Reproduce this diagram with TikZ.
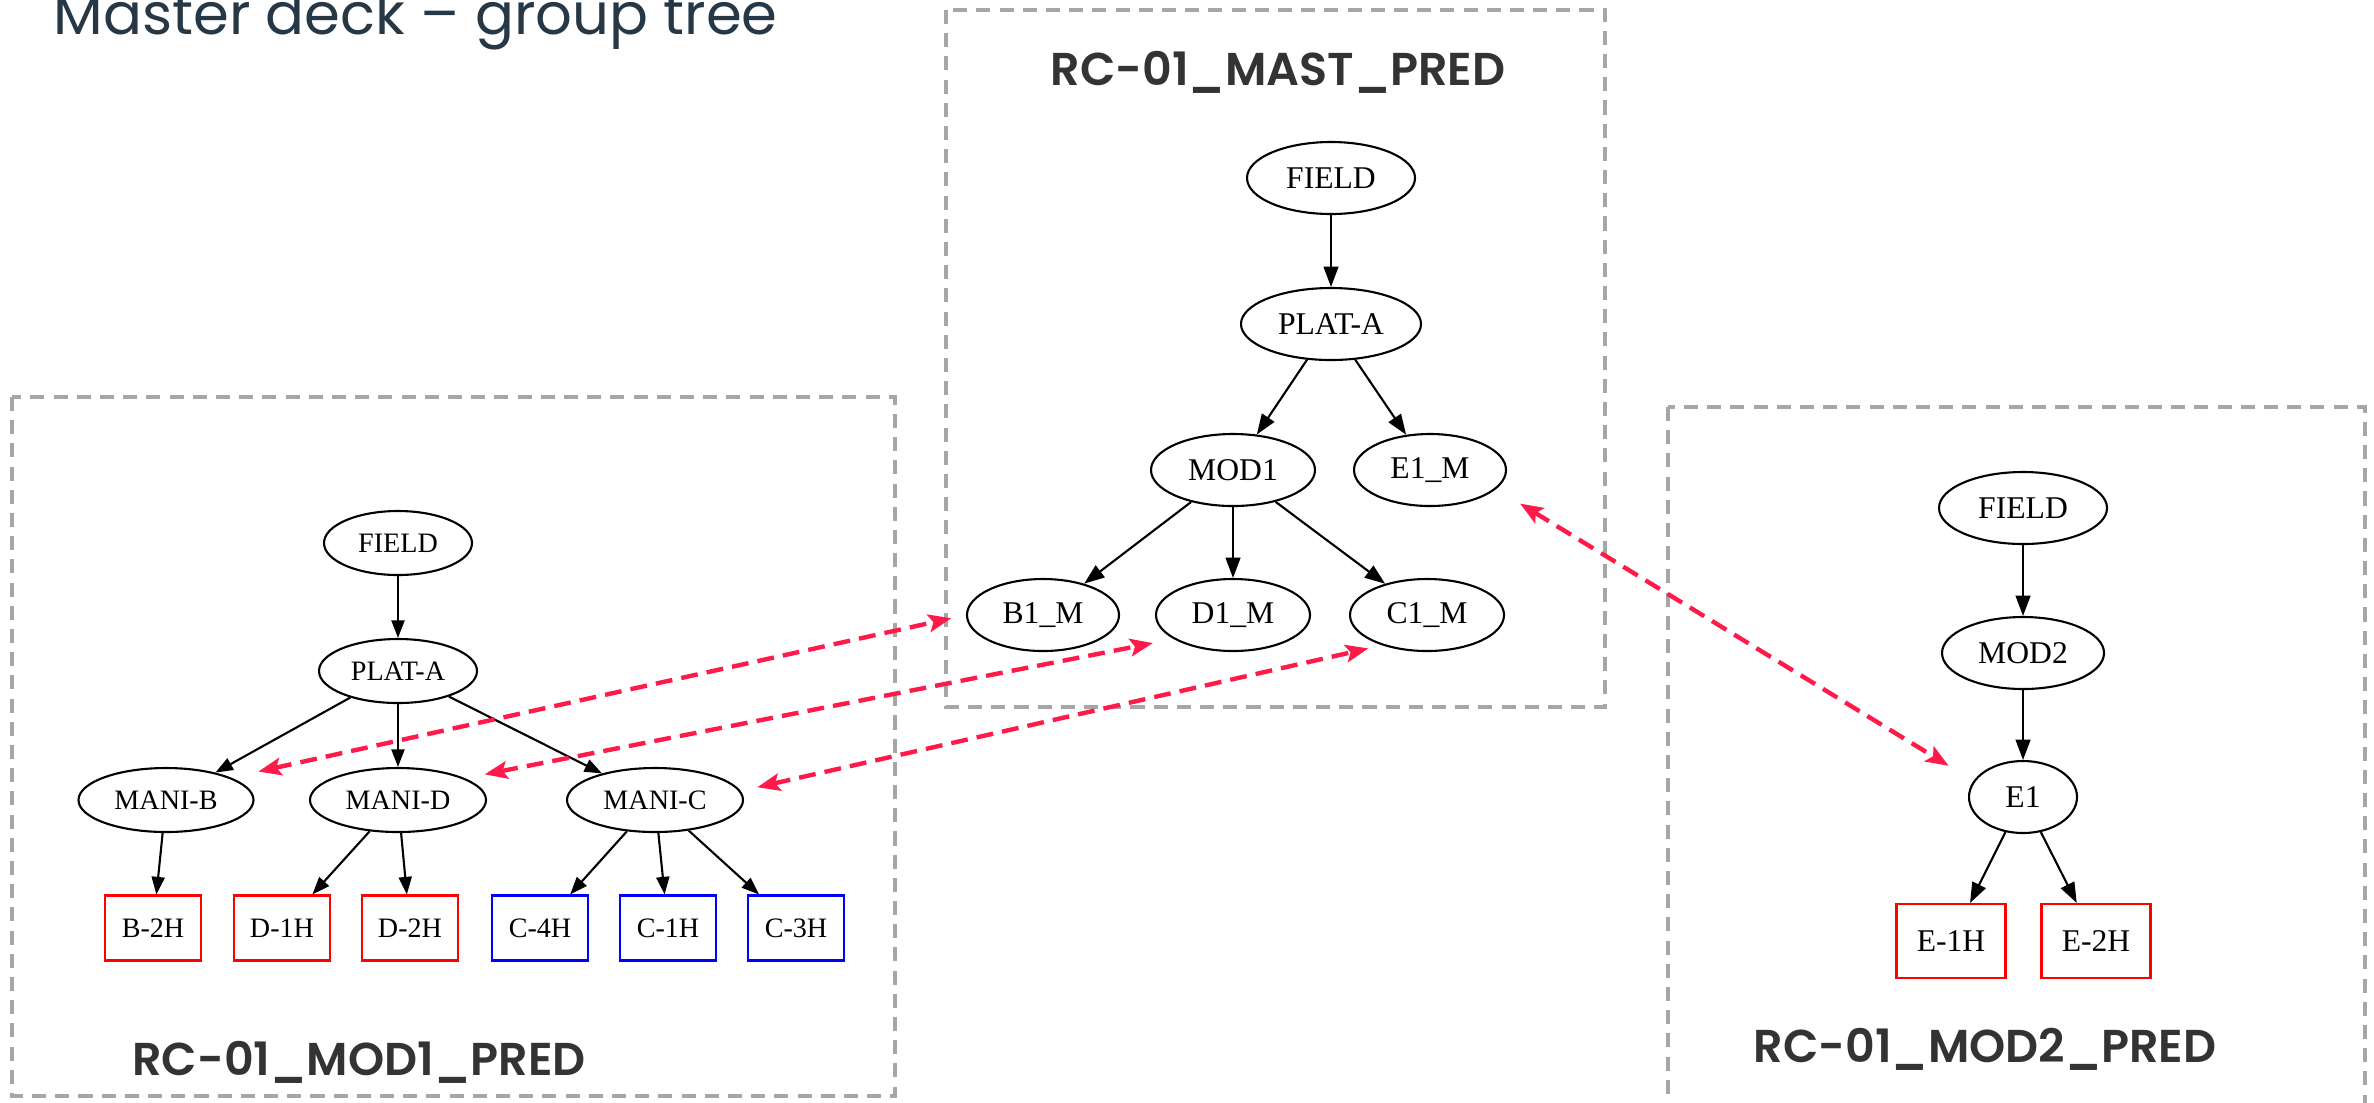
\documentclass[tikz,border=0pt]{standalone}
\usepackage{fontspec}
\setmainfont{Liberation Serif}
\newfontfamily\deckfont{Poppins}
\newfontfamily\groupfont{Poppins SemiBold}
\usetikzlibrary{shapes.geometric,arrows.meta}
\definecolor{linkred}{HTML}{FF1A4A}
\definecolor{framegray}{HTML}{A6A6A6}
\definecolor{titleblue}{HTML}{263746}
\definecolor{labelgray}{HTML}{333333}

\begin{document}
\begin{tikzpicture}[
  oval/.style={ellipse,draw,line width=0.6pt,inner sep=0pt,minimum height=0.72cm,font=\fontsize{9}{10}\selectfont},
  smalloval/.style={oval,minimum height=0.64cm,font=\fontsize{8}{9}\selectfont},
  leaf/.style={rectangle,draw,line width=0.6pt,inner sep=0pt,minimum width=1.09cm,minimum height=0.74cm,font=\fontsize{9}{10}\selectfont},
  smallleaf/.style={leaf,minimum width=0.96cm,minimum height=0.65cm,font=\fontsize{8}{9}\selectfont},
  branch/.style={-{Triangle[length=5.8pt,width=4.2pt]},line width=0.6pt},
  smallbranch/.style={-{Triangle[length=5pt,width=3.7pt]},line width=0.6pt},
  pairlink/.style={{Stealth[length=6.5pt,width=5pt,inset=1.3pt]}-{Stealth[length=6.5pt,width=5pt,inset=1.3pt]},
    line width=1.25pt,linkred,dash pattern=on 4.8pt off 2.6pt},
  groupframe/.style={line width=1pt,framegray,dash pattern=on 4pt off 2.6pt},
  grouplabel/.style={anchor=base,inner sep=0pt,text=labelgray,font=\groupfont\fontsize{13.1}{16}\selectfont}
]
  \useasboundingbox (0,0) rectangle (23.74,-11.02);

  \node[anchor=base west,inner sep=0pt,text=titleblue,font=\deckfont\fontsize{16.4}{19}\selectfont]
    (title) at (0.53,-0.34) {Master deck – group tree};

  \draw[groupframe] (9.46,-0.10) rectangle (16.05,-7.07);
  \draw[groupframe] (0.12,-3.97) rectangle (8.95,-10.96);
  \draw[groupframe] (16.68,-4.07) rectangle (23.65,-11.40);

  \node[grouplabel] (mastlabel) at (12.78,-0.85) {RC-01\_MAST\_PRED};
  \node[grouplabel] (modonelabel) at (3.59,-10.75) {RC-01\_MOD1\_PRED};
  \node[grouplabel] (modtwolabel) at (19.85,-10.62) {RC-01\_MOD2\_PRED};

  \node[oval,minimum width=1.68cm] (fieldM) at (13.31,-1.78) {FIELD};
  \node[oval,minimum width=1.80cm] (platM) at (13.31,-3.24) {PLAT-A};
  \node[oval,minimum width=1.64cm] (modM) at (12.33,-4.70) {MOD1};
  \node[oval,minimum width=1.52cm] (e1M) at (14.30,-4.70) {E1\_M};
  \node[oval,minimum width=1.52cm] (b1M) at (10.43,-6.15) {B1\_M};
  \node[oval,minimum width=1.54cm] (d1M) at (12.33,-6.15) {D1\_M};
  \node[oval,minimum width=1.54cm] (c1M) at (14.27,-6.15) {C1\_M};

  \node[smalloval,minimum width=1.48cm] (fieldL) at (3.98,-5.43) {FIELD};
  \node[smalloval,minimum width=1.58cm] (platL) at (3.98,-6.71) {PLAT-A};
  \node[smalloval,minimum width=1.75cm] (maniB) at (1.66,-8.00) {MANI-B};
  \node[smalloval,minimum width=1.76cm] (maniD) at (3.98,-8.00) {MANI-D};
  \node[smalloval,minimum width=1.76cm] (maniC) at (6.55,-8.00) {MANI-C};
  \node[smallleaf,draw=red] (b2h) at (1.53,-9.28) {B-2H};
  \node[smallleaf,draw=red] (d1h) at (2.82,-9.28) {D-1H};
  \node[smallleaf,draw=red] (d2h) at (4.10,-9.28) {D-2H};
  \node[smallleaf,draw=blue] (c4h) at (5.40,-9.28) {C-4H};
  \node[smallleaf,draw=blue] (c1h) at (6.68,-9.28) {C-1H};
  \node[smallleaf,draw=blue] (c3h) at (7.96,-9.28) {C-3H};

  \node[oval,minimum width=1.68cm] (fieldR) at (20.23,-5.08) {FIELD};
  \node[oval,minimum width=1.62cm] (mod2) at (20.23,-6.53) {MOD2};
  \node[oval,minimum width=1.08cm] (e1) at (20.23,-7.97) {E1};
  \node[leaf,draw=red] (e1h) at (19.51,-9.41) {E-1H};
  \node[leaf,draw=red] (e2h) at (20.96,-9.41) {E-2H};

  \foreach \a/\b in {fieldM/platM,platM/modM,platM/e1M,modM/b1M,modM/d1M,modM/c1M,
      fieldR/mod2,mod2/e1,e1/e1h,e1/e2h}
    \draw[branch] (\a) -- (\b);
  \foreach \a/\b in {fieldL/platL,platL/maniB,platL/maniD,platL/maniC,maniB/b2h,
      maniD/d1h,maniD/d2h,maniC/c4h,maniC/c1h,maniC/c3h}
    \draw[smallbranch] (\a) -- (\b);

  \foreach \a/\b/\s/\t in {maniB.19/b1M.west/0.28cm/0.15cm,maniD.18/d1M.202/0.20cm/0.21cm,
      maniC.6/c1M.214/0.17cm/0.14cm,e1M.344/e1.162/0.28cm/0.29cm}
    \draw[pairlink,shorten <=\s,shorten >=\t] (\a) -- (\b);
\end{tikzpicture}
\end{document}
